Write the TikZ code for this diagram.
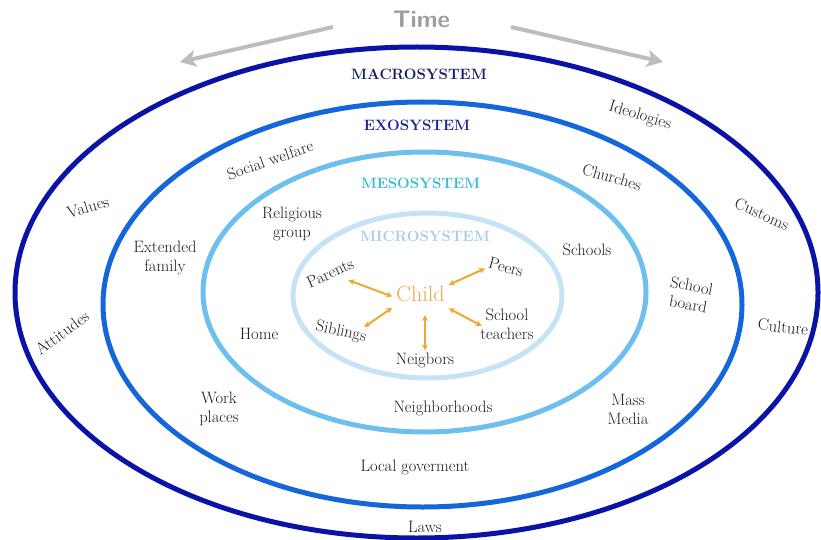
\documentclass[tikz,border=0pt]{standalone}
\usepackage{fontspec}
\usepackage{tikz}
\usetikzlibrary{arrows.meta}

\definecolor{macroblue}{HTML}{0B13A6}
\definecolor{exoblue}{HTML}{1566DB}
\definecolor{mesoblue}{HTML}{6DC0EE}
\definecolor{microblue}{HTML}{C6E3F6}
\definecolor{macrotext}{HTML}{161A66}
\definecolor{exotext}{HTML}{1C2296}
\definecolor{mesotext}{HTML}{35BCD8}
\definecolor{microtext}{HTML}{A7CBEA}
\definecolor{labelgray}{HTML}{1C1C1C}
\definecolor{timegray}{HTML}{9E9E9E}
\definecolor{timearrowgray}{HTML}{BDBDBD}
\definecolor{linkorange}{HTML}{F0A830}
\definecolor{childorange}{HTML}{E8A848}

\begin{document}
\begin{tikzpicture}[x=1pt,y=-1pt,
	lbl/.style={text=labelgray,font=\fontsize{16.5}{19}\selectfont,align=center,inner sep=2pt},
	sys/.style={font=\bfseries\fontsize{15}{18}\selectfont},
	ring/.style={line width=5pt},
	link/.style={draw=linkorange,line width=2pt,<->,>={Stealth[length=6pt,width=6pt]}},
	timearrow/.style={draw=timearrowgray,line width=4pt,-{Stealth[length=16pt,width=17pt,inset=4pt]}}]

	\useasboundingbox (0,0) rectangle (821,540);

	% rings
	\draw[ring,macroblue](416.5,292.5) ellipse [x radius=401.5,y radius=245.5];
	\draw[ring,exoblue](422.5,304.5) ellipse [x radius=319.5,y radius=202.5];
	\draw[ring,mesoblue](424.5,292) ellipse [x radius=221.5,y radius=140];
	\draw[ring,microblue](427.5,295.5) ellipse [x radius=134.5,y radius=82.5];

	% time
	\node[font=\sffamily\bfseries\fontsize{24}{28}\selectfont,text=timegray] (time) at (421.5,19) {Time};
	\coordinate (past start) at (333,27);
	\coordinate (past end) at (180,62);
	\coordinate (future start) at (511,27);
	\coordinate (future end) at (663,62);
	\draw[timearrow] (past start) -- (past end);
	\draw[timearrow] (future start) -- (future end);

	% systems
	\node[sys,text=macrotext] (macro) at (419,74) {MACROSYSTEM};
	\node[sys,text=exotext] (exo) at (417,125) {EXOSYSTEM};
	\node[sys,text=mesotext] (meso) at (420.5,183) {MESOSYSTEM};
	\node[sys,text=microtext] (micro) at (425,236) {MICROSYSTEM};

	% macrosystem
	\node[lbl,rotate=16] (values) at (88,207) {Values};
	\node[lbl,rotate=36] (attitudes) at (62,333) {Attitudes};
	\node[lbl,rotate=-17] (ideologies) at (640,116) {Ideologies};
	\node[lbl,rotate=-24] (customs) at (762,214) {Customs};
	\node[lbl,rotate=-6] (culture) at (783,327) {Culture};
	\node[lbl] (laws) at (425,527) {Laws};

	% exosystem
	\node[lbl,rotate=19] (welfare) at (270,160) {Social welfare};
	\node[lbl] (family) at (165,257.5) {Extended\\family};
	\node[lbl] (work) at (219,408.5) {Work\\places};
	\node[lbl] (localgov) at (415,467) {Local goverment};
	\node[lbl] (media) at (628,409) {Mass\\Media};
	\node[lbl,rotate=-11] (board) at (690,295) {School\\board};
	\node[lbl,rotate=-16] (churches) at (612,177) {Churches};

	% mesosystem
	\node[lbl] (religious) at (292,224) {Religious\\group};
	\node[lbl] (home) at (259,334) {Home};
	\node[lbl] (neighborhoods) at (443,408) {Neighborhoods};
	\node[lbl] (schools) at (587,250) {Schools};

	% microsystem
	\node[font=\fontsize{22}{26}\selectfont,text=childorange,inner xsep=4pt,inner ysep=10pt] (child) at (420.5,294) {Child};
	\node[lbl,rotate=25] (parents) at (330,273) {Parents};
	\node[lbl,rotate=-16] (peers) at (506,267) {Peers};
	\node[lbl,rotate=-12] (siblings) at (341,332) {Siblings};
	\node[lbl] (teachers) at (507,324) {School\\teachers};
	\node[lbl] (neigbors) at (425,360) {Neigbors};

	\draw[link,shorten <=9pt] (parents.-47) -- (child.185);
	\draw[link] (peers.200) -- (child.18);
	\draw[link] (siblings.24) -- (child.206);
	\draw[link,shorten >=3pt] (neigbors.north) -- (neigbors.north |- child.south);
	\draw[link,shorten >=-4pt] (child.-27) -- (teachers.west);
\end{tikzpicture}
\end{document}
